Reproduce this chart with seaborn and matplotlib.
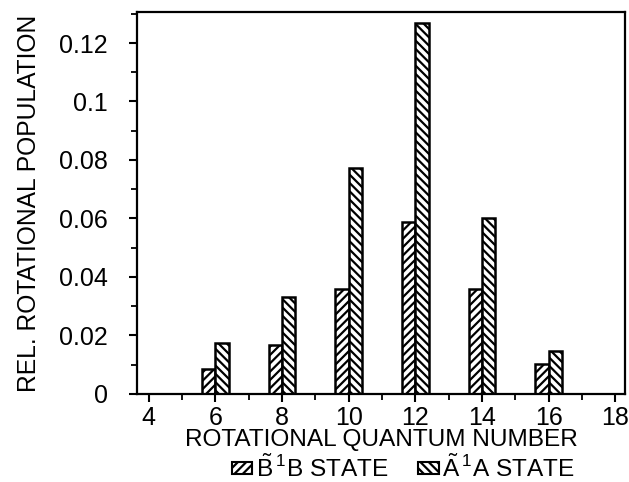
import matplotlib
matplotlib.use("Agg")
import matplotlib.pyplot as plt
import seaborn as sns
import pandas as pd
from matplotlib.patches import Patch
from matplotlib.ticker import MultipleLocator

J = [6, 8, 10, 12, 14, 16]
pop_B = [0.0085, 0.0168, 0.0359, 0.0588, 0.0359, 0.0103]
pop_A = [0.0174, 0.0332, 0.0773, 0.1270, 0.0602, 0.0147]
states = ["B", "A"]
labels = [r"$\tilde{\mathrm{B}}\,^{1}\mathrm{B}$ STATE", r"$\tilde{\mathrm{A}}\,^{1}\mathrm{A}$ STATE"]
hatches = ["////", "\\\\\\\\"]
xticks = [4, 6, 8, 10, 12, 14, 16, 18]
yticks = [0, 0.02, 0.04, 0.06, 0.08, 0.1, 0.12]
ytick_labels = ["0", "0.02", "0.04", "0.06", "0.08", "0.1", "0.12"]

df = pd.DataFrame({
    "J": J * 2,
    "pop": pop_B + pop_A,
    "state": ["B"] * len(J) + ["A"] * len(J),
})

sns.set_style("white")
plt.rcParams["font.family"] = ["Liberation Sans", "DejaVu Sans"]
plt.rcParams["text.color"] = "black"
plt.rcParams["mathtext.fontset"] = "custom"
plt.rcParams["mathtext.rm"] = "Liberation Sans"
plt.rcParams["mathtext.it"] = "Liberation Sans:italic"
plt.rcParams["hatch.linewidth"] = 1.6
plt.rcParams["hatch.color"] = "black"

fig = plt.figure(figsize=(6.29, 4.82), dpi=100)
ax = fig.add_axes([0.218, 0.183, 0.776, 0.792])

sns.barplot(data=df, x="J", y="pop", hue="state", hue_order=states,
            native_scale=True, width=0.4, gap=0, dodge=True,
            palette={"B": "white", "A": "white"}, edgecolor="black",
            linewidth=1.8, legend=False, ax=ax, errorbar=None)

for i, cont in enumerate(ax.containers):
    for p in cont:
        p.set_hatch(hatches[i])
        p.set_edgecolor("black")

ax.set_xlim(3.65, 18.3)
ax.set_ylim(0, 0.1306)
ax.xaxis.set_minor_locator(MultipleLocator(1))
ax.yaxis.set_minor_locator(MultipleLocator(0.01))
ax.set_yticks(yticks)
ax.set_yticklabels(ytick_labels)
ax.set_xticks(xticks)
ax.set_xticklabels([str(v) for v in xticks])

for s in ax.spines.values():
    s.set_color("black")
    s.set_linewidth(1.6)

ax.tick_params(axis="both", which="major", direction="out", length=6, width=1.5,
               labelsize=18, color="black", labelcolor="black")
ax.tick_params(axis="y", which="major", pad=15)
ax.tick_params(axis="x", which="major", pad=3)
ax.tick_params(axis="both", which="minor", direction="out", length=4, width=1.3, color="black")
ax.tick_params(axis="x", which="both", bottom=True)
ax.tick_params(axis="y", which="both", left=True)

ax.set_xlabel("ROTATIONAL QUANTUM NUMBER", fontsize=17.6, labelpad=-1, color="black")
ax.set_ylabel("REL. ROTATIONAL POPULATION", fontsize=17.7, labelpad=13, color="black")

handles = [Patch(facecolor="white", edgecolor="black", hatch=hatches[i], linewidth=1.5) for i in range(2)]
fig.legend(handles, labels, loc="center", bbox_to_anchor=(0.641, 0.028), ncol=2,
           frameon=False, fontsize=17.6, handlelength=0.85, handleheight=0.38,
           handletextpad=0.15, columnspacing=1.2, borderaxespad=0, borderpad=0,
           labelcolor="black")

fig.savefig("out.png", dpi=100)
